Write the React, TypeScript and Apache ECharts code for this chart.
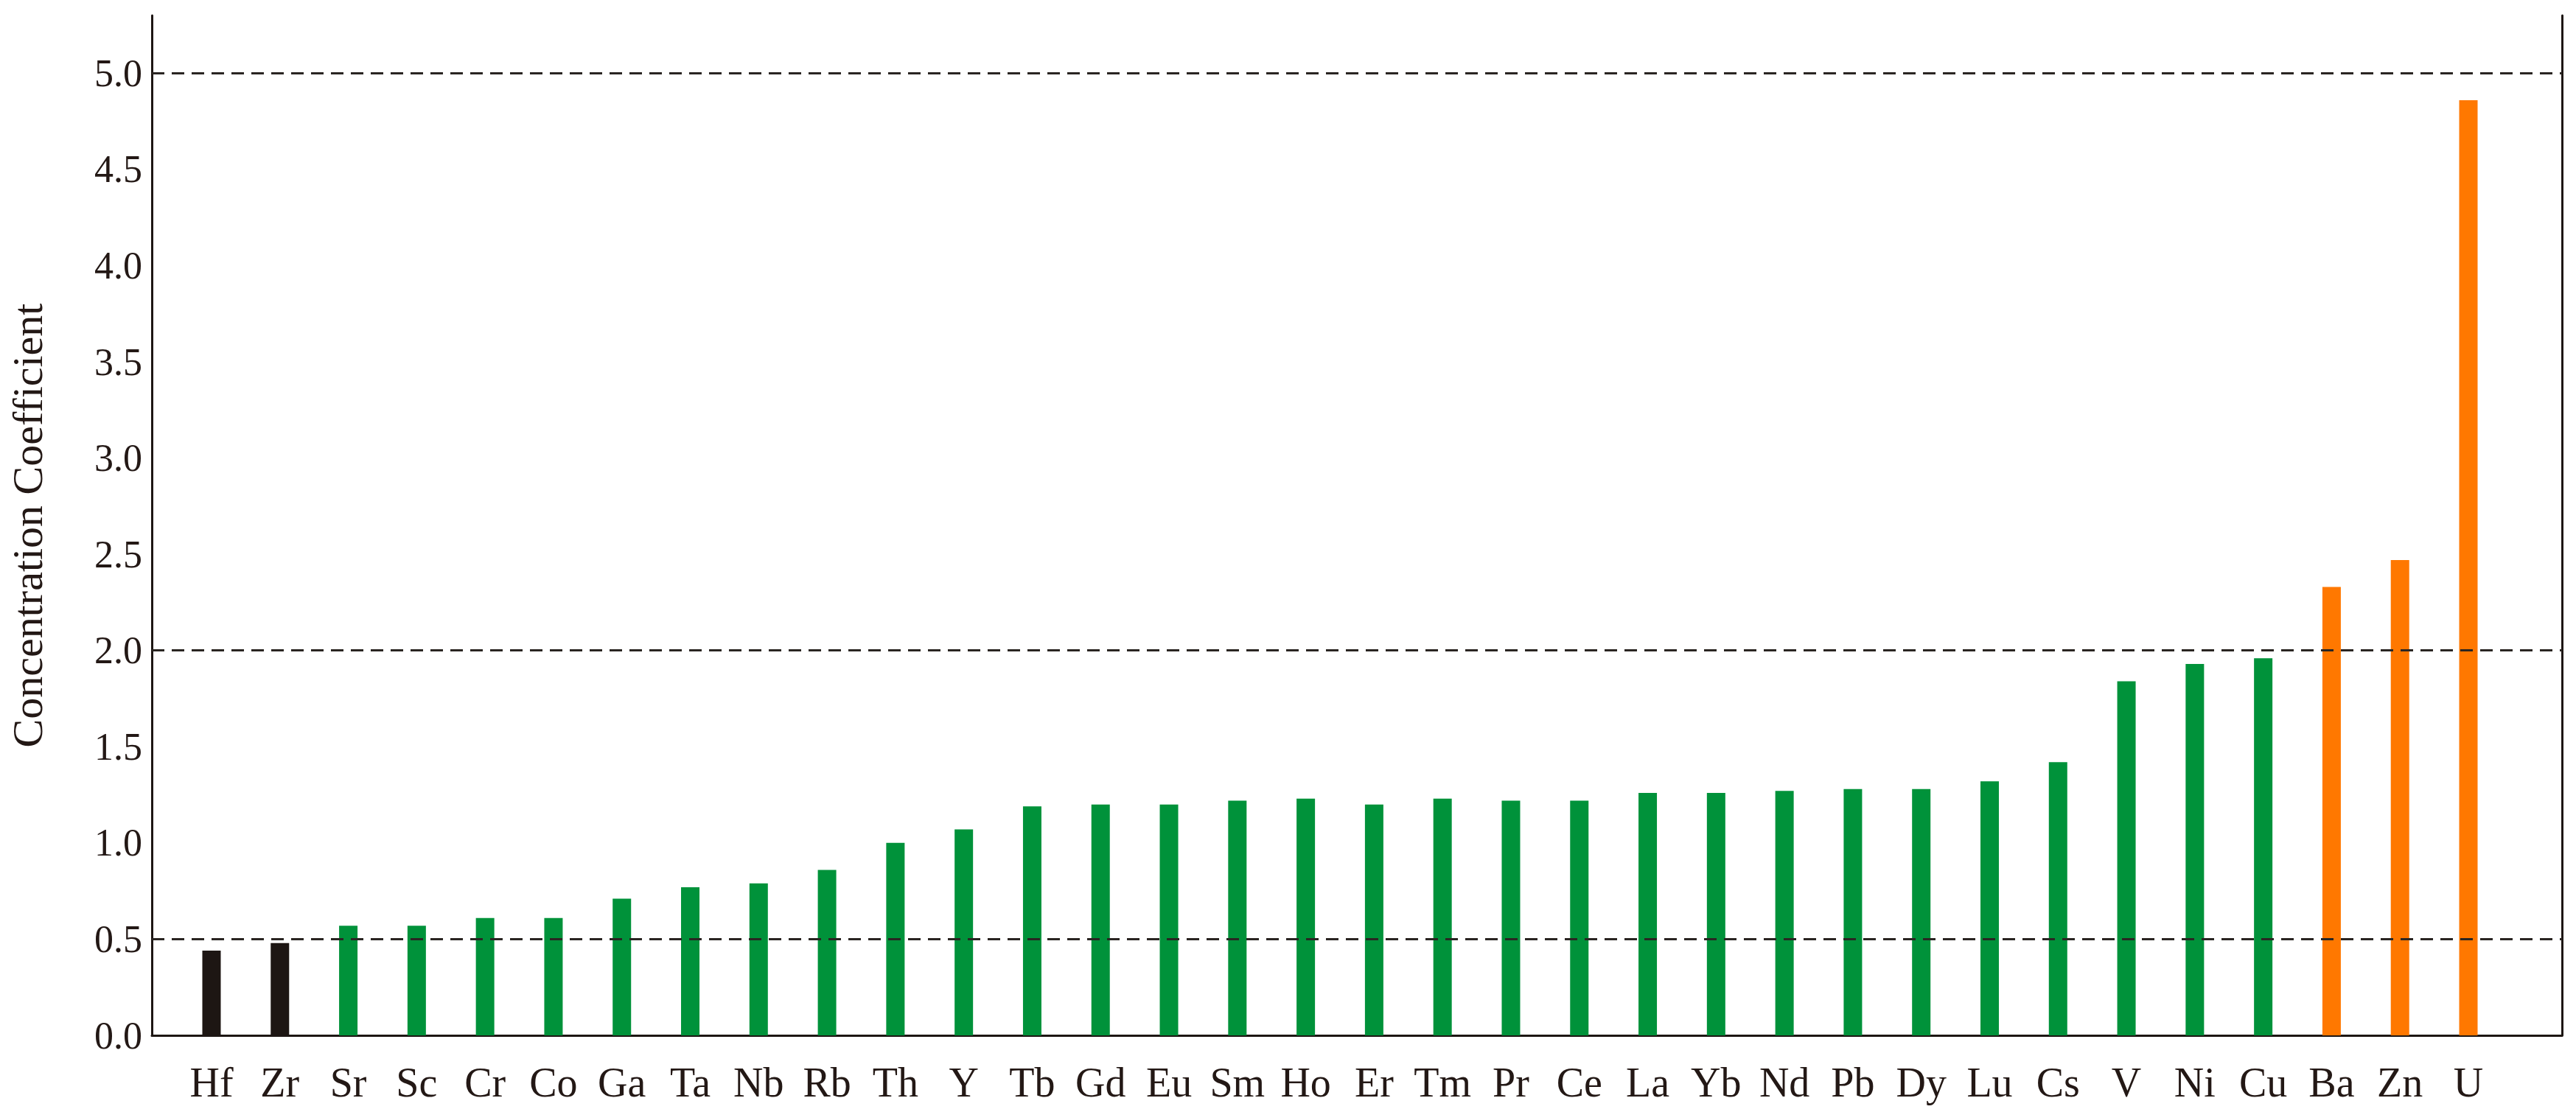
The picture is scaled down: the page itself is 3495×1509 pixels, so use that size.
import React, { useEffect, useRef } from "react";
import * as echarts from "echarts";

// Elements on the x axis
const categories: string[] = [
  "Hf", "Zr", "Sr", "Sc", "Cr", "Co", "Ga", "Ta", "Nb", "Rb", "Th", "Y",
  "Tb", "Gd", "Eu", "Sm", "Ho", "Er", "Tm", "Pr", "Ce", "La", "Yb", "Nd",
  "Pb", "Dy", "Lu", "Cs", "V", "Ni", "Cu", "Ba", "Zn", "U",
];

// Concentration coefficient per element
const values: number[] = [
  0.44, 0.48, 0.57, 0.57, 0.61, 0.61, 0.71, 0.77, 0.79, 0.86, 1.0, 1.07,
  1.19, 1.2, 1.2, 1.22, 1.23, 1.2, 1.23, 1.22, 1.22, 1.26, 1.26, 1.27,
  1.28, 1.28, 1.32, 1.42, 1.84, 1.93, 1.96, 2.33, 2.47, 4.86,
];

// Reference (dashed) levels
const thresholds: number[] = [0.5, 2.0, 5.0];

// Y tick labels range
const yMin = 0;
const yMax = 5.3;
const yStep = 0.5;

const COLOR_LOW = "#1d1613";
const COLOR_MID = "#00923a";
const COLOR_HIGH = "#ff7800";
const INK = "#231815";

function barColor(v: number): string {
  if (v < thresholds[0]) return COLOR_LOW;
  if (v > thresholds[1]) return COLOR_HIGH;
  return COLOR_MID;
}

export default function App() {
  const ref = useRef<HTMLDivElement>(null);

  useEffect(() => {
    if (!ref.current) return;
    const chart = echarts.init(ref.current, null, { renderer: "svg" });
    const axisLineStyle = { color: "#1d1613", width: 3 };
    const option: any = {
      animation: false,
      backgroundColor: "#ffffff",
      grid: [
        { left: 205.5, right: 19, top: 21, bottom: 104 },
        { left: 240.6, right: 99.6, top: 21, bottom: 104 },
      ],
      xAxis: [
        {
          type: "value",
          gridIndex: 0,
          min: 0,
          max: 1,
          axisLine: { show: true, onZero: false, lineStyle: axisLineStyle },
          axisTick: { show: false },
          axisLabel: { show: false },
          splitLine: { show: false },
        },
        {
          type: "category",
          gridIndex: 1,
          data: categories,
          axisLine: { show: false },
          axisTick: { show: false },
          splitLine: { show: false },
          axisLabel: {
            interval: 0,
            margin: 36,
            fontFamily: "Liberation Serif",
            fontSize: 56,
            color: INK,
          },
        },
      ],
      yAxis: [
        {
          type: "value",
          gridIndex: 0,
          min: yMin,
          max: yMax,
          interval: yStep,
          axisLine: { show: true, onZero: false, lineStyle: axisLineStyle },
          axisTick: { show: false },
          splitLine: { show: false },
          axisLabel: {
            margin: 13,
            fontFamily: "Liberation Serif",
            fontSize: 52,
            color: INK,
            formatter: (v: number) => (v > 5.01 ? "" : v.toFixed(1)),
          },
          name: "Concentration Coefficient",
          nameLocation: "middle",
          nameRotate: 90,
          nameGap: 140,
          nameTextStyle: {
            fontFamily: "Liberation Serif",
            fontSize: 58,
            color: INK,
          },
        },
        {
          type: "value",
          gridIndex: 0,
          position: "right",
          min: yMin,
          max: yMax,
          interval: yStep,
          axisLine: { show: true, onZero: false, lineStyle: axisLineStyle },
          axisTick: { show: false },
          axisLabel: { show: false },
          splitLine: { show: false },
        },
        {
          type: "value",
          gridIndex: 1,
          min: yMin,
          max: yMax,
          interval: yStep,
          show: false,
          splitLine: { show: false },
        },
      ],
      series: [
        {
          type: "bar",
          xAxisIndex: 1,
          yAxisIndex: 2,
          barWidth: 25,
          z: 2,
          data: values.map((v) => ({ value: v, itemStyle: { color: barColor(v) } })),
        },
        {
          type: "line",
          xAxisIndex: 0,
          yAxisIndex: 0,
          data: [],
          z: 5,
          markLine: {
            silent: true,
            symbol: "none",
            label: { show: false },
            lineStyle: { type: [17, 10], color: "#2a2522", width: 3 },
            data: thresholds.map((t) => ({ yAxis: t })),
          },
        },
      ],
    };
    chart.setOption(option);
    return () => chart.dispose();
  }, []);

  return (
    <div
      ref={ref}
      style={{ position: "fixed", left: 0, top: 0, width: 3495, height: 1509, background: "#fff" }}
    />
  );
}
